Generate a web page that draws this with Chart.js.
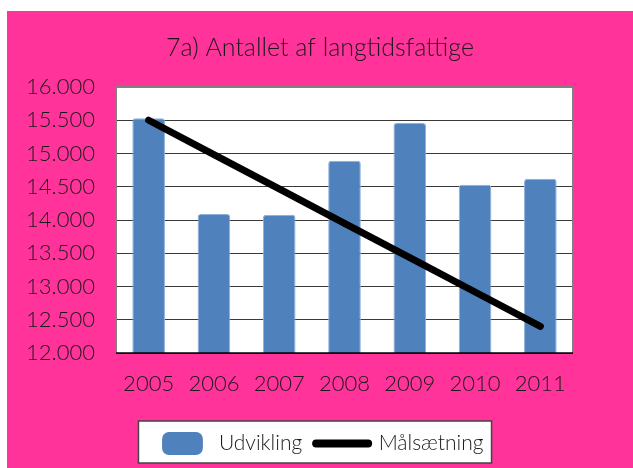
<!DOCTYPE html>
<html>
<head>
<meta charset="utf-8">
<script src="https://cdn.jsdelivr.net/npm/chart.js@4.4.1/dist/chart.umd.min.js"></script>
<style>
  html, body { margin: 0; padding: 0; background: #fff; }
  #wrap { width: 633px; height: 468px; }
</style>
</head>
<body>
<div id="wrap"><canvas id="chart"></canvas></div>
<script>
// data
const years = ['2005', '2006', '2007', '2008', '2009', '2010', '2011'];
const udvikling = [15530, 14090, 14080, 14890, 15460, 14530, 14620];
const maalsaetning = [15500, 14983, 14467, 13950, 13433, 12917, 12400];
const yTicks = [12000, 12500, 13000, 13500, 14000, 14500, 15000, 15500, 16000];

const pink = '#FF3399';
const blue = '#4F81BD';
const textColor = '#1a1a1a';

function dk(v) {
    return String(v).replace(/\B(?=(\d{3})+(?!\d))/g, '.');
}

// pink frame, white plot area and the legend box
const frame = {
    id: 'frame',
    beforeDraw(chart) {
        const { ctx, chartArea: a } = chart;
        ctx.save();
        ctx.fillStyle = pink;
        ctx.fillRect(7, 11, chart.width - 7, chart.height - 11);
        ctx.fillStyle = '#fff';
        ctx.fillRect(a.left, a.top, a.right - a.left, a.bottom - a.top);

        const hb = chart.legend.legendHitBoxes;
        if (hb && hb.length) {
            const l = Math.min(...hb.map(h => h.left)) - 18;
            const r = Math.max(...hb.map(h => h.left + h.width)) + 8;
            const t = hb[0].top - 12;
            ctx.fillStyle = '#fff';
            ctx.fillRect(l, t, r - l, 42);
            ctx.strokeStyle = '#444';
            ctx.lineWidth = 1.5;
            ctx.strokeRect(l, t, r - l, 42);
        }
        ctx.restore();
    },
    afterDatasetsDraw(chart) {
        const { ctx, chartArea: a } = chart;
        ctx.save();
        ctx.strokeStyle = '#808080';
        ctx.lineWidth = 2;
        ctx.beginPath();
        ctx.moveTo(a.left, a.bottom);
        ctx.lineTo(a.left, a.top);
        ctx.lineTo(a.right, a.top);
        ctx.lineTo(a.right, a.bottom);
        ctx.stroke();
        ctx.strokeStyle = '#000';
        ctx.lineWidth = 1.5;
        ctx.beginPath();
        ctx.moveTo(a.left, a.bottom);
        ctx.lineTo(a.right, a.bottom);
        ctx.stroke();
        ctx.restore();
    }
};

Chart.defaults.font.family = 'Lato, "Open Sans", sans-serif';
Chart.defaults.font.weight = '300';
Chart.defaults.color = textColor;

new Chart(document.getElementById('chart'), {
    type: 'bar',
    data: {
        labels: years,
        datasets: [
            {
                label: 'Udvikling',
                data: udvikling,
                backgroundColor: blue,
                borderColor: '#8fb0d9',
                borderWidth: 1,
                borderRadius: 3,
                borderSkipped: false,
                barPercentage: 0.5,
                categoryPercentage: 1,
                order: 2
            },
            {
                type: 'line',
                label: 'Målsætning',
                data: maalsaetning,
                borderColor: '#000',
                backgroundColor: '#000',
                borderWidth: 7,
                borderCapStyle: 'round',
                pointRadius: 0,
                pointHoverRadius: 0,
                order: 1
            }
        ]
    },
    options: {
        responsive: true,
        maintainAspectRatio: false,
        animation: false,
        layout: { padding: { left: 7, top: 11, right: 0, bottom: 4 } },
        plugins: {
            title: {
                display: true,
                text: '7a) Antallet af langtidsfattige',
                color: textColor,
                font: { size: 25, weight: '300' },
                padding: { top: 22, bottom: 24 }
            },
            legend: {
                position: 'bottom',
                labels: {
                    usePointStyle: true,
                    pointStyleWidth: 52,
                    boxHeight: 19,
                    padding: 14,
                    color: textColor,
                    font: { size: 21, weight: '300' },
                    generateLabels(chart) {
                        return chart.data.datasets.map((ds, i) => ({
                            text: ds.label,
                            datasetIndex: i,
                            fillStyle: ds.type === 'line' ? '#000' : blue,
                            strokeStyle: ds.type === 'line' ? '#000' : blue,
                            lineWidth: ds.type === 'line' ? 8 : 0,
                            lineCap: 'round',
                            pointStyle: ds.type === 'line' ? 'line' : 'rectRounded',
                            fontColor: textColor,
                            hidden: false
                        }));
                    }
                }
            },
            tooltip: { enabled: false }
        },
        scales: {
            x: {
                grid: { display: false },
                border: { display: false },
                ticks: { padding: 10, font: { size: 22, weight: '300' }, color: textColor },
                afterFit(scale) { scale.height = 66; }
            },
            y: {
                min: 12000,
                max: 16000,
                afterBuildTicks(scale) {
                    scale.ticks = yTicks.map(v => ({ value: v }));
                },
                grid: { color: '#3a3a3a', lineWidth: 1, drawTicks: false },
                border: { display: false },
                ticks: {
                    padding: 21,
                    font: { size: 22, weight: '300' },
                    color: textColor,
                    callback: v => dk(v)
                },
                afterFit(scale) { scale.width = 109; }
            },
            // empty right axis, only keeps the pink margin on the right
            yRight: {
                position: 'right',
                grid: { display: false },
                border: { display: false },
                ticks: { display: false },
                afterFit(scale) { scale.width = 60; }
            }
        }
    },
    plugins: [frame]
});
</script>
</body>
</html>
